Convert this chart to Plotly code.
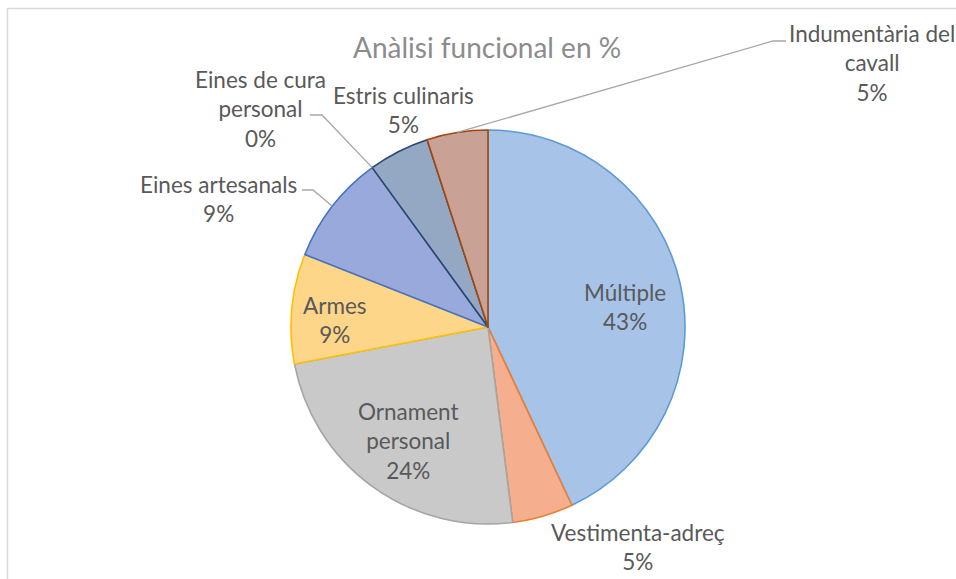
import math
import plotly.graph_objects as go

# ---- data ----
categories = ["Múltiple", "Vestimenta-adreç", "Ornament personal", "Armes",
              "Eines artesanals", "Eines de cura personal", "Estris culinaris",
              "Indumentària del cavall"]
shares = [43, 5, 24, 9, 9, 0, 5, 5]
label_texts = ["Múltiple", "Vestimenta-adreç", "Ornament<br>personal", "Armes",
               "Eines artesanals", "Eines de cura<br>personal", "Estris culinaris",
               "Indumentària del<br>cavall"]
title_text = "Anàlisi funcional en %"

# ---- style ----
fills = ["#a7c4e8", "#f5af8e", "#c9c9c9", "#fed689", "#99a9dc", "#a9d18e", "#94a7c3", "#caa195"]
edges = ["#5b9bd5", "#ed7d31", "#a5a5a5", "#ffc000", "#4472c4", "#70ad47", "#264478", "#9e480e"]
W, H = 956, 579
CX, CY, R = 488, 327, 197
FONT = "Lato"
TXT = "#595959"

def px_to_paper(x, y):
    return x / W, 1 - y / H

def edge_point(frac, r=R):
    th = 2 * math.pi * frac
    return CX + r * math.sin(th), CY - r * math.cos(th)

total = sum(shares)
cum = [0]
for v in shares:
    cum.append(cum[-1] + v)
mid_frac = [(cum[i] + cum[i + 1]) / 2 / total for i in range(len(shares))]

fig = go.Figure(go.Pie(
    labels=categories, values=shares, sort=False, direction="clockwise", rotation=0,
    marker=dict(colors=fills, line=dict(color=edges, width=1.6)),
    textinfo="none", hoverinfo="skip", showlegend=False,
    domain=dict(x=[(CX - R) / W, (CX + R) / W], y=[1 - (CY + R) / H, 1 - (CY - R) / H]),
))

# label positions (pixel centres) and optional leader-line elbows
label_pos = {
    0: (625, 307),
    1: (638, 547),
    2: (408, 441),
    3: (335, 320),
    4: (218, 199),
    5: (260, 109),
    6: (403, 110),
    7: (872, 63),
}
leaders = {
    4: [(313, 190), (302, 190)],
    5: [(322, 115), (310, 115)],
    7: [(773, 41), (786, 41)],
}

annotations = []
for i, (x, y) in label_pos.items():
    px, py = px_to_paper(x, y)
    annotations.append(dict(
        x=px, y=py, xref="paper", yref="paper", showarrow=False,
        text=f"{label_texts[i]}<br>{shares[i]}%", align="center",
        xanchor="center", yanchor="middle",
        font=dict(family=FONT, size=22.5, color=TXT),
    ))
tx, ty = px_to_paper(487, 47)
annotations.append(dict(x=tx, y=ty, xref="paper", yref="paper", showarrow=False,
                        text=title_text, xanchor="center", yanchor="middle",
                        font=dict(family=FONT, size=28, color="#8c8c8c")))

shapes = []
for i, pts in leaders.items():
    frac = cum[i] / total if shares[i] == 0 else mid_frac[i]
    start = edge_point(frac)
    seq = [start] + pts
    path = ""
    for k, (x, y) in enumerate(seq):
        px, py = px_to_paper(x, y)
        path += ("M" if k == 0 else "L") + f"{px},{py} "
    shapes.append(dict(type="path", path=path.strip(), xref="paper", yref="paper",
                       line=dict(color="#a6a6a6", width=1.3)))

# chart frame (top and left edges visible)
fx0, fy1 = px_to_paper(7.5, 8.5)
shapes.append(dict(type="path", path=f"M{fx0},-0.02 L{fx0},{fy1} L1.02,{fy1}",
                   xref="paper", yref="paper", line=dict(color="#d9d9d9", width=1.5)))

fig.update_layout(
    width=W, height=H, margin=dict(l=0, r=0, t=0, b=0),
    paper_bgcolor="white", plot_bgcolor="white",
    annotations=annotations, shapes=shapes,
)
fig.write_html("out.html", config={"displayModeBar": False},
               post_script="document.body.style.margin='0';document.body.style.overflow='hidden';")
